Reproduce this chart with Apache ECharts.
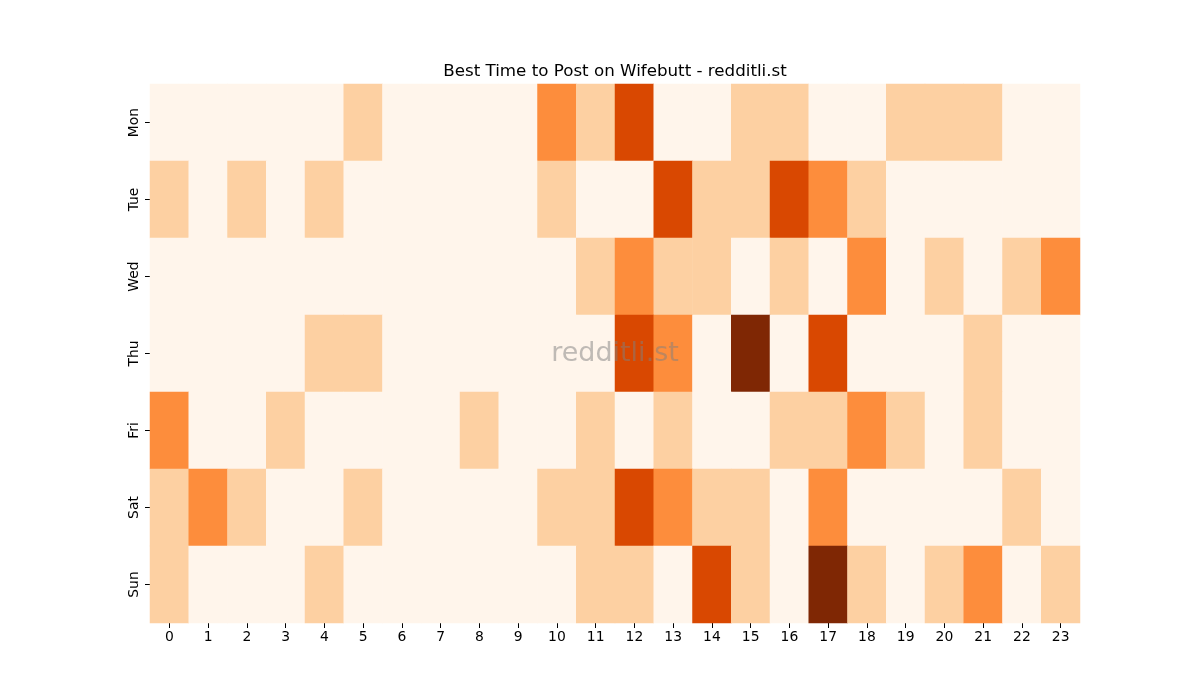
<!DOCTYPE html>
<html>
<head>
<meta charset="utf-8">
<script src="https://cdn.jsdelivr.net/npm/echarts@6/dist/echarts.min.js"></script>
<style>html,body{margin:0;padding:0;background:#fff;}#c{width:1200px;height:700px;}</style>
</head>
<body>
<div id="c"></div>
<script>
const hours = ['0','1','2','3','4','5','6','7','8','9','10','11','12','13','14','15','16','17','18','19','20','21','22','23'];
const days = ['Mon','Tue','Wed','Thu','Fri','Sat','Sun'];
const mon = [0,0,0,0,0,1,0,0,0,0,2,1,3,0,0,1,1,0,0,1,1,1,0,0];
const tue = [1,0,1,0,1,0,0,0,0,0,1,0,0,3,1,1,3,2,1,0,0,0,0,0];
const wed = [0,0,0,0,0,0,0,0,0,0,0,1,2,1,1,0,1,0,2,0,1,0,1,2];
const thu = [0,0,0,0,1,1,0,0,0,0,0,0,3,2,0,4,0,3,0,0,0,1,0,0];
const fri = [2,0,0,1,0,0,0,0,1,0,0,1,0,1,0,0,1,1,2,1,0,1,0,0];
const sat = [1,2,1,0,0,1,0,0,0,0,1,1,3,2,1,1,0,2,0,0,0,0,1,0];
const sun = [1,0,0,0,1,0,0,0,0,0,0,1,1,0,3,1,0,4,1,0,1,2,0,1];
const rows = [mon,tue,wed,thu,fri,sat,sun];
const palette = ['#fff5eb','#fdd0a2','#fd8d3c','#d94801','#7f2704'];

const data = [];
rows.forEach((r, d) => r.forEach((v, h) => data.push([h, d, v])));

const font = 'DejaVu Sans';
const chart = echarts.init(document.getElementById('c'));
chart.setOption({
  animation: false,
  backgroundColor: '#ffffff',
  title: {
    text: 'Best Time to Post on Wifebutt - redditli.st',
    left: 610, top: 58, textAlign: 'center',
    textStyle: {fontFamily: font, fontSize: 16.7, fontWeight: 'normal', color: '#000'}
  },
  grid: {left: 150, top: 84, width: 930, height: 539},
  xAxis: {
    type: 'category', data: hours,
    axisLine: {show: false},
    axisTick: {show: true, alignWithLabel: true, length: 5, lineStyle: {color: '#000'}},
    axisLabel: {fontFamily: font, fontSize: 13.9, color: '#000', margin: 7},
    splitLine: {show: false}
  },
  yAxis: {
    type: 'category', data: days, inverse: true,
    axisLine: {show: false},
    axisTick: {show: true, alignWithLabel: true, length: 5, lineStyle: {color: '#000'}},
    axisLabel: {fontFamily: font, fontSize: 13.9, color: '#000', rotate: 90, margin: 9},
    splitLine: {show: false}
  },
  visualMap: {
    show: false, type: 'piecewise', dimension: 2,
    pieces: palette.map((c, i) => ({value: i, color: c}))
  },
  series: [{
    type: 'heatmap', data: data,
    itemStyle: {borderWidth: 0},
    emphasis: {disabled: true}
  }],
  graphic: [{
    type: 'text', x: 615, y: 354, z: 100,
    style: {text: 'redditli.st', textAlign: 'center', textVerticalAlign: 'middle',
      font: '27px "DejaVu Sans"', fill: 'rgba(128,128,128,0.5)'}
  }]
});
</script>
</body>
</html>
